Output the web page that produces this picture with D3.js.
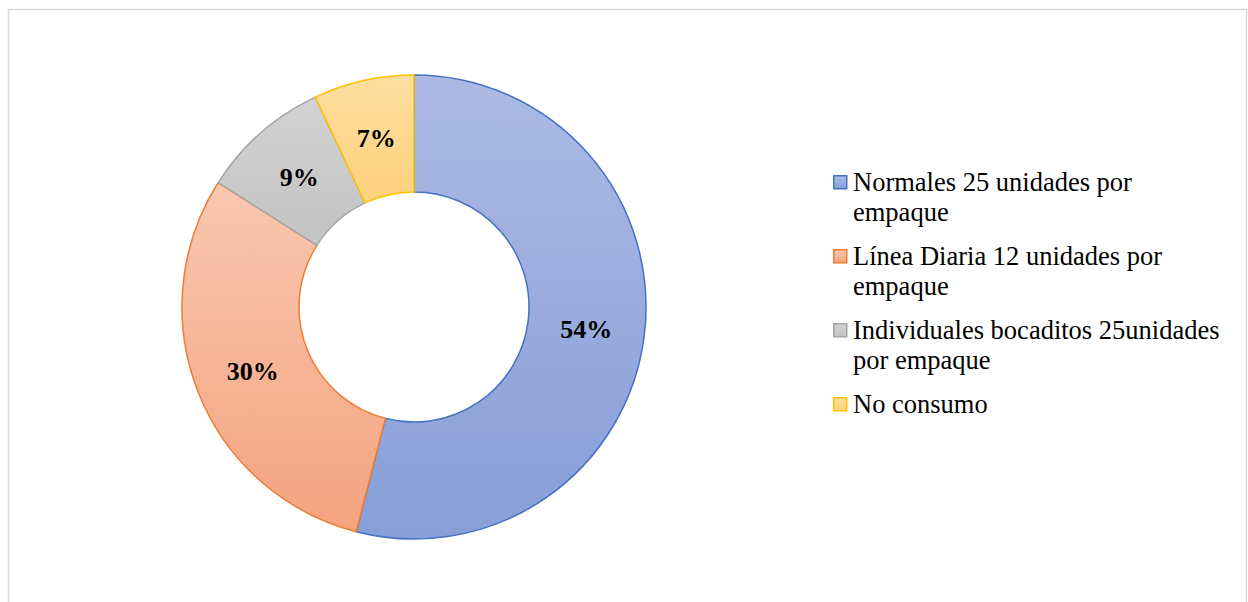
<!DOCTYPE html>
<html>
<head>
<meta charset="utf-8">
<script src="https://cdn.jsdelivr.net/npm/d3@7"></script>
<style>
  html, body { margin: 0; padding: 0; background: #ffffff; }
  svg { display: block; }
</style>
</head>
<body>
<div id="chart"></div>
<script>
// Consumption share by package type
const categories = [
  "Normales 25 unidades por empaque",
  "Línea Diaria 12 unidades por empaque",
  "Individuales bocaditos 25unidades por empaque",
  "No consumo"
];
const values = [54, 30, 9, 7];
const percentLabels = ["54%", "30%", "9%", "7%"];

const strokeColors = ["#4472c4", "#ed7d31", "#a5a5a5", "#ffc000"];
const gradTop = ["#acbae3", "#f9c7b1", "#d3d3d3", "#fedd9f"];
const gradBottom = ["#879ed8", "#f4a37e", "#c2c2c2", "#fdd27c"];

const W = 1248, H = 602;
const cx = 414, cy = 307, outerR = 232, innerR = 115;
const serif = "'Liberation Serif', 'Times New Roman', serif";

const svg = d3.select("#chart").append("svg")
  .attr("width", W).attr("height", H);

// chart frame
svg.append("rect")
  .attr("x", 8.5).attr("y", 9.5)
  .attr("width", 1238).attr("height", 620)
  .attr("fill", "#ffffff")
  .attr("stroke", "#d9d9d9").attr("stroke-width", 1.5);

const defs = svg.append("defs");
categories.forEach((c, i) => {
  const g = defs.append("linearGradient")
    .attr("id", "grad" + i)
    .attr("x1", 0).attr("y1", 0).attr("x2", 0).attr("y2", 1);
  g.append("stop").attr("offset", "0%").attr("stop-color", gradTop[i]);
  g.append("stop").attr("offset", "100%").attr("stop-color", gradBottom[i]);
});

const pie = d3.pie().sort(null).value(d => d);
const arcs = pie(values);
const arc = d3.arc().innerRadius(innerR).outerRadius(outerR);

const donut = svg.append("g").attr("transform", `translate(${cx},${cy})`);

donut.selectAll("path.slice")
  .data(arcs)
  .join("path")
  .attr("class", "slice")
  .attr("d", arc)
  .attr("fill", (d, i) => `url(#grad${i})`)
  .attr("stroke", (d, i) => strokeColors[i])
  .attr("stroke-width", 1.5)
  .attr("stroke-linejoin", "round");

donut.selectAll("text.pct")
  .data(arcs)
  .join("text")
  .attr("class", "pct")
  .attr("transform", d => `translate(${arc.centroid(d)})`)
  .attr("text-anchor", "middle")
  .attr("dy", "0.35em")
  .attr("font-family", serif)
  .attr("font-weight", "bold")
  .attr("font-size", 26)
  .attr("fill", "#000000")
  .text((d, i) => percentLabels[i]);

// legend
const legendX = 833, legendY0 = 175, itemGap = 14, lineH = 30, maxW = 376;
const legend = svg.append("g");
let y = legendY0;
categories.forEach((c, i) => {
  const item = legend.append("g");
  item.append("rect")
    .attr("x", legendX + 0.75).attr("y", y + 0.75)
    .attr("width", 13).attr("height", 13)
    .attr("fill", `url(#grad${i})`)
    .attr("stroke", strokeColors[i]).attr("stroke-width", 1.5);
  const text = item.append("text")
    .attr("x", legendX + 20)
    .attr("y", y + 15.5)
    .attr("font-family", serif)
    .attr("font-size", 26.5)
    .attr("fill", "#000000");
  // wrap words to the legend width
  const words = c.split(" ");
  let line = [];
  let lineNo = 0;
  let tspan = text.append("tspan").attr("x", legendX + 20).attr("dy", 0);
  words.forEach(w => {
    line.push(w);
    tspan.text(line.join(" "));
    if (tspan.node().getComputedTextLength() > maxW && line.length > 1) {
      line.pop();
      tspan.text(line.join(" "));
      line = [w];
      lineNo++;
      tspan = text.append("tspan").attr("x", legendX + 20).attr("dy", lineH).text(w);
    }
  });
  y += (lineNo + 1) * lineH + itemGap;
});
</script>
</body>
</html>
